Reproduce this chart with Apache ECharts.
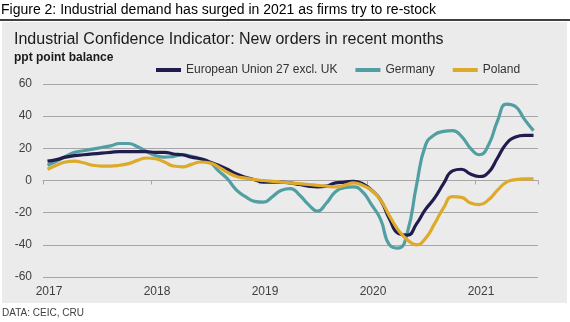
<!DOCTYPE html>
<html>
<head>
<meta charset="utf-8">
<script src="https://cdn.jsdelivr.net/npm/echarts@6/dist/echarts.min.js"></script>
<style>
  html, body { margin: 0; padding: 0; background: #ffffff; }
  #chart { width: 570px; height: 322px; }
</style>
</head>
<body>
<div id="chart"></div>
<script>
// Monthly balance of new-order expectations, Jan 2017 – Jul 2021
const months = [];
for (let y = 2017; y <= 2021; y++) {
  for (let mo = 1; mo <= 12; mo++) {
    if (y === 2021 && mo > 7) break;
    months.push(y + '-' + String(mo).padStart(2, '0'));
  }
}

const seriesNames = ['European Union 27 excl. UK', 'Germany', 'Poland'];

const euValues = [
  12, 13, 14.5, 15.5, 16, 16.5, 17, 17.5, 18, 18, 18, 18,
  17.5, 17.5, 16.5, 16, 14.5, 13.5, 11.5, 9.5, 7, 4, 2, 0.5,
  -1, -1, -1, -1.5, -2.5, -3.5, -4, -3.5, -1.5, -1, -0.5, -2,
  -6, -12, -24, -33, -34, -27, -18, -11, -2, 6, 7, 4,
  2.5, 5, 14, 23, 27, 28, 28
];

const germanyValues = [
  9.5, 12, 15, 17.5, 18.5, 19.5, 20.5, 21.5, 23, 23, 21, 18,
  15.5, 14.5, 15, 16, 15, 13.5, 11.5, 6, 1, -6, -10, -13,
  -13.5, -10, -6, -5, -9, -15, -19, -14, -7, -4.5, -4, -7,
  -15, -24, -40, -42, -32, -3, 22, 28.5, 30.5, 31, 27.5, 20,
  16, 22, 37, 47.5, 46, 38, 31
];

const polandValues = [
  7, 9.5, 11.5, 12, 11, 9.5, 9, 9, 9.5, 10.5, 12.5, 14,
  13.5, 11.5, 9, 8.5, 10, 11.5, 11, 8.5, 5, 2.5, 1.5, 0.5,
  0, -0.5, -1, -1.5, -2, -2.5, -3, -3.5, -4, -3, -1.5, -3,
  -6, -12, -22, -31, -37, -40, -36, -27, -17, -10, -10.5, -14,
  -15, -12, -6, -1, 0.5, 1, 1
];

const yTicks = { min: -60, max: 60, step: 20 };

const colors = ['#211c4e', '#529fa3', '#ddaa2a'];
const font = "'Liberation Sans', Arial, sans-serif";

const chart = echarts.init(document.getElementById('chart'), null, { renderer: 'canvas' });

const yearLabel = (v) => v.slice(0, 4);

chart.setOption({
  animation: false,
  backgroundColor: '#ffffff',
  textStyle: { fontFamily: font },
  graphic: [
    { type: 'rect', left: 2, top: 22, shape: { width: 565, height: 281 },
      style: { fill: '#ebebeb' }, z: -10 },
    { type: 'line', shape: { x1: 0, y1: 20, x2: 570, y2: 20 },
      style: { stroke: '#000000', lineWidth: 1.5 }, z: -5 }
  ],
  title: [
    { text: 'Figure 2: Industrial demand has surged in 2021 as firms try to re-stock',
      left: 1, top: 3, padding: 0,
      textStyle: { fontSize: 14, fontWeight: 'normal', color: '#000', fontFamily: font } },
    { text: 'Industrial Confidence Indicator: New orders in recent months',
      left: 14, top: 32, padding: 0,
      textStyle: { fontSize: 16, fontWeight: 'normal', color: '#1a1a1a', fontFamily: font } },
    { text: 'ppt point balance',
      left: 14, top: 52, padding: 0,
      textStyle: { fontSize: 12, fontWeight: 'bold', color: '#1a1a1a', fontFamily: font } },
    { text: 'DATA: CEIC, CRU',
      left: 2, top: 308, padding: 0,
      textStyle: { fontSize: 10, fontWeight: 'normal', color: '#404040', fontFamily: font } }
  ],
  legend: {
    data: seriesNames,
    left: 156, top: 64,
    icon: 'rect',
    itemWidth: 25, itemHeight: 4,
    itemGap: 18,
    padding: 0,
    textStyle: { fontSize: 12, color: '#333333', fontFamily: font, padding: [0, 0, 0, 0] }
  },
  grid: { left: 43, right: 32, top: 84, bottom: 45, containLabel: false },
  xAxis: [
    {
      type: 'category', data: months, boundaryGap: true, position: 'bottom',
      axisLine: { show: false, onZero: false },
      axisTick: { show: false },
      axisLabel: {
        interval: 11, formatter: yearLabel, margin: 9,
        fontSize: 12, color: '#404040', fontFamily: font, padding: [0, 0, 0, 3]
      },
      splitLine: { show: false }
    },
    {
      type: 'category', data: months, boundaryGap: true, position: 'bottom',
      axisLine: { show: true, onZero: true, lineStyle: { color: '#a6a6a6', width: 1 } },
      axisTick: { show: true, interval: 11, length: 4, lineStyle: { color: '#a6a6a6' } },
      axisLabel: { show: false },
      splitLine: { show: false }
    }
  ],
  yAxis: {
    type: 'value', min: yTicks.min, max: yTicks.max, interval: yTicks.step,
    axisLine: { show: false }, axisTick: { show: false },
    axisLabel: { fontSize: 12, color: '#404040', margin: 11, fontFamily: font },
    splitLine: { lineStyle: { color: '#a6a6a6', width: 1 } }
  },
  series: [
    { name: seriesNames[0], type: 'line', data: euValues, smooth: 0.5, showSymbol: false,
      lineStyle: { width: 3.2, color: colors[0] }, itemStyle: { color: colors[0] }, z: 3 },
    { name: seriesNames[1], type: 'line', data: germanyValues, smooth: 0.5, showSymbol: false,
      lineStyle: { width: 3.2, color: colors[1] }, itemStyle: { color: colors[1] }, z: 2 },
    { name: seriesNames[2], type: 'line', data: polandValues, smooth: 0.5, showSymbol: false,
      lineStyle: { width: 3.2, color: colors[2] }, itemStyle: { color: colors[2] }, z: 4 }
  ]
});
</script>
</body>
</html>
